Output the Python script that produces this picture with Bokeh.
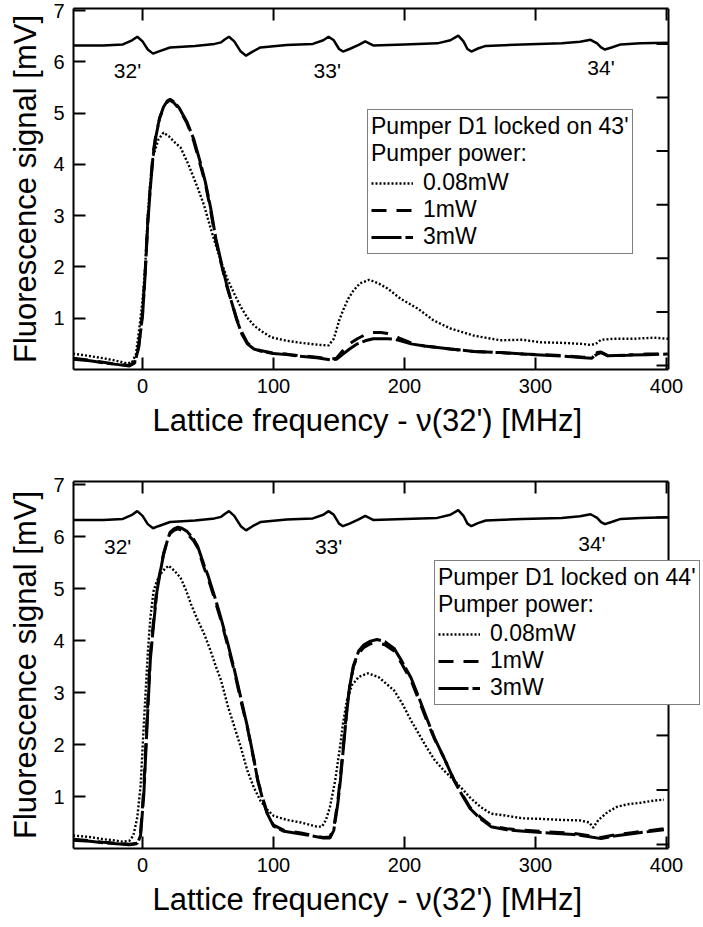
from bokeh.plotting import figure
from bokeh.layouts import column
from bokeh.models import Range1d, LinearAxis, FixedTicker, Legend, LegendItem, Title
from bokeh.core.properties import value
from bokeh.embed import file_html
from bokeh.resources import INLINE

FONT = "Liberation Sans"

# ---- saturated-absorption reference trace (same in both panels) ----
ref_x = [-53, -30, -15, -8, -4, 0, 4, 8, 12, 21, 40, 55, 60, 63, 66, 70, 75, 79, 84, 90,
         110, 130, 138, 142, 146, 150, 153, 158, 165, 170, 173, 176, 200, 225, 235, 241,
         245, 248, 251, 256, 262, 290, 320, 334, 342, 347, 350, 353, 358, 365, 380, 401]
ref_y = [6.32, 6.32, 6.34, 6.42, 6.49, 6.40, 6.24, 6.16, 6.20, 6.28, 6.31, 6.35, 6.38, 6.44,
         6.49, 6.40, 6.20, 6.12, 6.20, 6.28, 6.33, 6.35, 6.42, 6.49, 6.42, 6.25, 6.20, 6.25,
         6.33, 6.40, 6.36, 6.32, 6.34, 6.36, 6.42, 6.51, 6.40, 6.25, 6.20, 6.26, 6.31, 6.34,
         6.36, 6.39, 6.43, 6.36, 6.28, 6.24, 6.28, 6.34, 6.36, 6.37]
ref_labels = ["32'", "33'", "34'"]
top_label_x = [-11.5, 141, 350]
top_label_y = [5.83, 5.83, 5.88]
bot_label_x = [-19, 142, 343]
bot_label_y = [5.80, 5.80, 5.87]

# ---- upper panel: pumper D1 locked on 43' ----
top_x_008 = [-53, -40, -30, -20, -12, -8, -5, -2, 0, 2, 4, 6, 8, 12, 16, 20, 25, 29, 35, 42,
             47, 52, 56, 60, 65, 70, 75, 80, 85, 90, 98, 110, 121, 135, 142, 146, 150, 153,
             157, 161, 166, 173, 180, 187, 197, 210, 222, 235, 253, 273, 290, 304, 320, 335,
             342, 346, 350, 360, 375, 390, 401]
top_y_008 = [0.31, 0.26, 0.22, 0.17, 0.12, 0.14, 0.30, 0.90, 1.35, 2.00, 3.00, 3.65, 4.15,
             4.48, 4.62, 4.55, 4.42, 4.33, 4.00, 3.55, 3.20, 2.75, 2.42, 2.10, 1.75, 1.48,
             1.22, 1.01, 0.86, 0.76, 0.63, 0.56, 0.52, 0.48, 0.47, 0.60, 0.95, 1.15, 1.38,
             1.54, 1.68, 1.75, 1.68, 1.58, 1.38, 1.19, 0.96, 0.80, 0.66, 0.57, 0.58, 0.53,
             0.52, 0.50, 0.48, 0.50, 0.58, 0.60, 0.60, 0.62, 0.60]

top_x_hi = [-53, -40, -30, -20, -10, -6, -3, 0, 2, 4, 6, 8, 10, 13, 16, 19, 21, 24, 28, 34,
            39, 44, 48, 52, 56, 60, 64, 67, 72, 76, 80, 85, 90, 100, 110, 120, 133, 143, 148,
            153, 158, 164, 170, 176, 182, 187, 192, 197, 205, 215, 235, 253, 273, 291, 315,
            337, 343, 347, 350, 355, 370, 385, 401]
top_y_1 = [0.22, 0.18, 0.14, 0.10, 0.08, 0.15, 0.45, 1.10, 1.90, 2.90, 3.60, 4.20, 4.55,
           4.90, 5.10, 5.22, 5.25, 5.20, 5.08, 4.80, 4.46, 4.00, 3.62, 3.10, 2.50, 2.07,
           1.65, 1.40, 0.98, 0.72, 0.52, 0.42, 0.37, 0.32, 0.30, 0.27, 0.24, 0.20, 0.22,
           0.37, 0.50, 0.60, 0.68, 0.72, 0.72, 0.70, 0.66, 0.60, 0.52, 0.46, 0.40, 0.35,
           0.33, 0.30, 0.28, 0.24, 0.23, 0.30, 0.33, 0.27, 0.28, 0.30, 0.30]
top_y_3 = [0.20, 0.17, 0.13, 0.10, 0.07, 0.13, 0.42, 1.05, 1.85, 2.85, 3.55, 4.15, 4.52,
           4.90, 5.12, 5.24, 5.27, 5.22, 5.10, 4.82, 4.50, 4.05, 3.65, 3.15, 2.55, 2.10,
           1.68, 1.40, 0.96, 0.68, 0.50, 0.40, 0.36, 0.31, 0.29, 0.26, 0.23, 0.19, 0.20,
           0.30, 0.40, 0.50, 0.56, 0.60, 0.60, 0.60, 0.59, 0.56, 0.50, 0.46, 0.40, 0.35,
           0.33, 0.30, 0.27, 0.23, 0.22, 0.33, 0.34, 0.27, 0.28, 0.29, 0.30]

# ---- lower panel: pumper D1 locked on 44' ----
bot_x_008 = [-53, -40, -30, -20, -15, -10, -7, -4, -1.5, 1, 4, 6, 8.4, 11, 14, 17, 20, 24,
             29, 33, 37, 42, 47, 52, 56, 60, 65, 70, 75, 80, 85, 90, 95, 100, 110, 121, 133,
             137, 140, 143, 147, 151, 153, 156, 160, 165, 172, 180, 187, 192, 198, 205, 211,
             217, 223, 230, 238, 245, 250, 258, 266, 278, 290, 304, 320, 334, 341, 344, 348,
             355, 362, 370, 380, 390, 398]
bot_y_008 = [0.25, 0.22, 0.18, 0.15, 0.13, 0.15, 0.25, 0.60, 1.20, 2.40, 3.75, 4.45, 4.95,
             5.15, 5.29, 5.38, 5.44, 5.35, 5.21, 4.98, 4.70, 4.40, 4.13, 3.80, 3.50, 3.23,
             2.75, 2.35, 1.95, 1.50, 1.17, 0.92, 0.75, 0.63, 0.55, 0.50, 0.42, 0.42, 0.55,
             0.79, 1.30, 2.00, 2.40, 2.85, 3.15, 3.30, 3.37, 3.30, 3.15, 3.04, 2.80, 2.46,
             2.20, 1.94, 1.70, 1.50, 1.31, 1.12, 0.98, 0.80, 0.67, 0.63, 0.58, 0.57, 0.55,
             0.54, 0.50, 0.40, 0.55, 0.70, 0.80, 0.85, 0.88, 0.92, 0.94]

bot_x_hi = [-53, -40, -30, -20, -10, -4, -1.5, 1, 4, 6, 8.4, 11, 14, 16, 19, 21, 24, 27, 30,
            34, 39, 42, 47, 50, 55, 60, 65, 70, 75, 80, 85, 88, 92, 95, 100, 108, 121, 130,
            138, 143, 146, 149, 151, 153, 156, 158, 161, 165, 169, 174, 179, 185, 192, 198,
            205, 211, 217, 223, 230, 238, 245, 250, 258, 266, 278, 291, 310, 329, 340, 350,
            360, 375, 385, 398]
bot_y_1 = [0.18, 0.15, 0.12, 0.10, 0.08, 0.10, 0.30, 1.17, 2.79, 3.75, 4.38, 5.02, 5.40,
           5.67, 5.92, 6.06, 6.12, 6.15, 6.12, 6.06, 5.92, 5.79, 5.40, 5.20, 4.80, 4.38,
           3.90, 3.42, 2.85, 2.33, 1.70, 1.31, 0.95, 0.70, 0.45, 0.35, 0.30, 0.25, 0.21,
           0.22, 0.40, 0.90, 1.37, 1.90, 2.70, 3.10, 3.50, 3.75, 3.87, 3.94, 3.96, 3.92,
           3.80, 3.55, 3.23, 2.85, 2.46, 2.10, 1.75, 1.31, 1.00, 0.79, 0.60, 0.44, 0.38,
           0.35, 0.32, 0.29, 0.25, 0.21, 0.26, 0.31, 0.34, 0.38]
bot_y_3 = [0.16, 0.14, 0.11, 0.09, 0.07, 0.09, 0.25, 1.05, 2.65, 3.65, 4.30, 4.95, 5.38,
           5.65, 5.93, 6.08, 6.15, 6.18, 6.16, 6.10, 5.95, 5.82, 5.45, 5.25, 4.85, 4.42,
           3.95, 3.45, 2.90, 2.35, 1.72, 1.30, 0.92, 0.68, 0.43, 0.33, 0.28, 0.24, 0.20,
           0.20, 0.35, 0.85, 1.30, 1.85, 2.65, 3.10, 3.52, 3.80, 3.92, 3.99, 4.02, 3.98,
           3.85, 3.60, 3.28, 2.90, 2.50, 2.12, 1.75, 1.30, 0.98, 0.77, 0.57, 0.42, 0.36,
           0.33, 0.30, 0.27, 0.23, 0.19, 0.24, 0.29, 0.32, 0.36]

power_labels = ["0.08mW", "1mW", "3mW"]
x_ticks = [0, 100, 200, 300, 400]
y_ticks = [1, 2, 3, 4, 5, 6, 7]
ref_axis_ticks = [0, 1, 2, 3, 4, 5, 6]
x_title = "Lattice frequency - \u03bd(32') [MHz]"
y_title = "Fluorescence signal [mV]"

# plot box: the data area ends at X_EDGE, the canvas keeps going to the right
# so that the legend of the lower panel may run past the box edge
X_START, X_EDGE, X_VIEW_END = -52.7, 401.5, 428.2
FRAME_LEFT, FRAME_W = 73, 630
TICK_PX = 12


def style_axis(ax, ticks):
    ax.ticker = FixedTicker(ticks=ticks)
    ax.axis_line_width = 2
    ax.axis_line_color = "black"
    ax.major_tick_line_width = 2
    ax.major_tick_line_color = "black"
    ax.major_tick_in = TICK_PX
    ax.major_tick_out = 0
    ax.minor_tick_line_color = None
    ax.major_label_text_font = FONT
    ax.major_label_text_font_size = "20px"
    ax.major_label_text_color = "black"
    ax.major_label_standoff = 9
    ax.axis_label_text_font = FONT
    ax.axis_label_text_font_size = "31px"
    ax.axis_label_text_font_style = "normal"
    ax.axis_label_text_color = "black"


def make_panel(height, top, bottom, y_end, frame_h, curves, lbl_x, lbl_y, title, loc):
    p = figure(width=703, height=height,
               x_range=Range1d(X_START, X_VIEW_END), y_range=Range1d(0, y_end),
               output_backend="svg", toolbar_location=None,
               min_border_left=FRAME_LEFT, min_border_right=0,
               min_border_top=top, min_border_bottom=bottom)
    p.outline_line_color = None
    p.grid.visible = False
    p.extra_y_ranges = {"ref": Range1d(-0.075, 6.66)}

    style_axis(p.xaxis[0], x_ticks)
    p.xaxis[0].bounds = (X_START, X_EDGE)
    style_axis(p.yaxis[0], y_ticks)
    p.yaxis[0].axis_label = y_title
    p.yaxis[0].axis_label_standoff = 7

    # x-axis title, centred under the box rather than under the whole canvas
    p.add_layout(Title(text=x_title, align="left", offset=79, standoff=11,
                       text_font=FONT, text_font_size="31px",
                       text_font_style="normal", text_color="black"), "below")

    # top edge of the box: a bare axis line, its ticks are drawn below
    top_ax = LinearAxis(ticker=FixedTicker(ticks=[]), bounds=(X_START, X_EDGE),
                        axis_line_width=2, axis_line_color="black",
                        minor_tick_line_color=None)
    p.add_layout(top_ax, "above")

    dx = TICK_PX * (X_VIEW_END - X_START) / FRAME_W
    dy = TICK_PX * y_end / frame_h
    # inward ticks along the top edge
    p.segment(x0=x_ticks, x1=x_ticks, y0=[y_end - dy] * len(x_ticks),
              y1=[y_end] * len(x_ticks), line_color="black", line_width=2)
    # right edge of the box with the ticks of the reference-trace scale
    p.segment(x0=[X_EDGE], x1=[X_EDGE], y0=[0], y1=[y_end],
              line_color="black", line_width=2)
    p.segment(x0=[X_EDGE - dx] * len(ref_axis_ticks), x1=[X_EDGE] * len(ref_axis_ticks),
              y0=ref_axis_ticks, y1=ref_axis_ticks, y_range_name="ref",
              line_color="black", line_width=2)

    # reference spectrum with hyperfine labels
    p.line(ref_x, ref_y, line_color="black", line_width=2.5)
    p.text(x=lbl_x, y=lbl_y, text=ref_labels, text_font=value(FONT),
           text_font_size="21px", text_align="center", text_baseline="middle",
           text_color="black")

    (x008, y008), (xhi, y1), (_, y3) = curves
    r008 = p.line(x008, y008, line_color="black", line_width=2.4, line_dash="2 2")
    r1 = p.line(xhi, y1, line_color="black", line_width=3, line_dash="15 10")
    r3 = p.line(xhi, y3, line_color="black", line_width=3, line_dash="30 4")

    legend = Legend(items=[LegendItem(label=power_labels[0], renderers=[r008]),
                           LegendItem(label=power_labels[1], renderers=[r1]),
                           LegendItem(label=power_labels[2], renderers=[r3])],
                    location=loc, title=title)
    legend.title_text_font = FONT
    legend.title_text_font_size = "23px"
    legend.title_text_font_style = "normal"
    legend.title_text_color = "black"
    legend.title_text_line_height = 1.1
    legend.title_standoff = 2
    legend.label_text_font = FONT
    legend.label_text_font_size = "23px"
    legend.label_text_color = "black"
    legend.glyph_width = 42
    legend.glyph_height = 20
    legend.label_height = 20
    legend.label_standoff = 10
    legend.spacing = 0
    legend.padding = 3
    legend.margin = 0
    legend.border_line_color = "black"
    legend.border_line_width = 1.5
    legend.background_fill_color = "white"
    legend.background_fill_alpha = 1.0
    p.add_layout(legend)
    return p


p1 = make_panel(460, 8, 91, 7.04, 361,
                [(top_x_008, top_y_008), (top_x_hi, top_y_1), (top_x_hi, top_y_3)],
                top_label_x, top_label_y,
                "Pumper D1 locked on 43'\nPumper power:", (294, 115))
p2 = make_panel(467, 21, 79, 7.06, 367,
                [(bot_x_008, bot_y_008), (bot_x_hi, bot_y_1), (bot_x_hi, bot_y_3)],
                bot_label_x, bot_label_y,
                "Pumper D1 locked on 44'\nPumper power:", (361, 143))

layout = column(p1, p2, spacing=0)
open("out.html", "w").write(file_html(layout, INLINE))
